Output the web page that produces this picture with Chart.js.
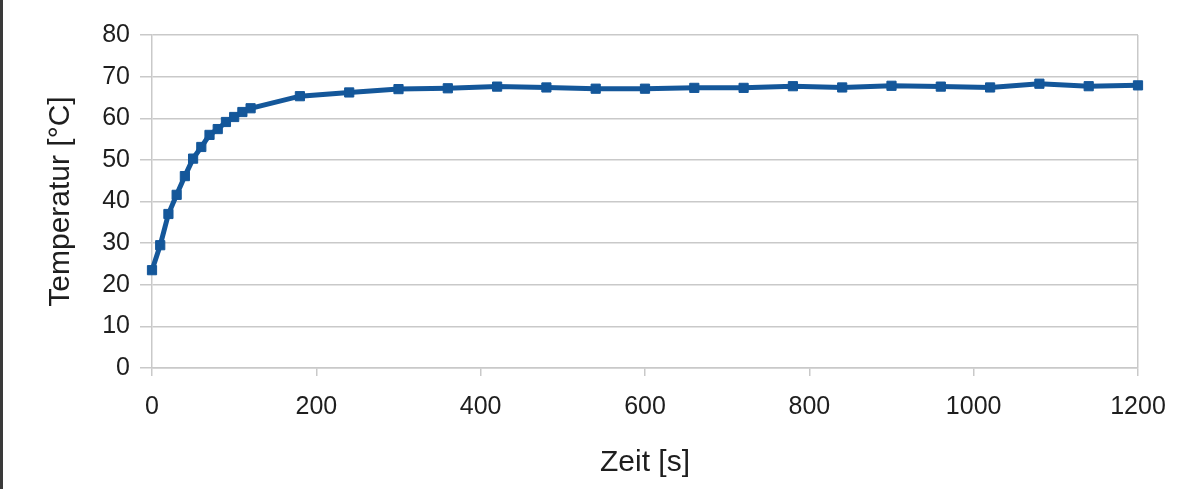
<!DOCTYPE html>
<html>
<head>
<meta charset="utf-8">
<script src="https://cdn.jsdelivr.net/npm/chart.js@4.4.0/dist/chart.umd.min.js"></script>
<style>
  html, body { margin: 0; padding: 0; background: #fff; }
  #wrap { position: relative; width: 1182px; height: 489px; }
  #edge { position: absolute; left: 0; top: 0; width: 3px; height: 489px; background: #3a3a3a; }
  canvas { position: absolute; left: 0; top: 0; }
</style>
</head>
<body>
<div id="wrap">
  <canvas id="chart" width="1182" height="489"></canvas>
  <div id="edge"></div>
</div>
<script>
// Messwerte: Zeit in Sekunden, Temperatur in °C
const zeit = [0, 10, 20, 30, 40, 50, 60, 70, 80, 90, 100, 110, 120,
  180, 240, 300, 360, 420, 480, 540, 600, 660, 720, 780, 840, 900, 960, 1020, 1080, 1140, 1200];
const temperatur = [23.5, 29.5, 37.0, 41.6, 46.1, 50.3, 53.1, 56.0, 57.4, 59.1, 60.3, 61.5, 62.4,
  65.3, 66.2, 67.0, 67.2, 67.6, 67.4, 67.1, 67.1, 67.3, 67.3, 67.7, 67.4, 67.8, 67.6, 67.4, 68.3, 67.7, 67.9];

const xTicks = [0, 200, 400, 600, 800, 1000, 1200];
const yTicks = [0, 10, 20, 30, 40, 50, 60, 70, 80];

const lineColor = '#14579a';
const gridColor = '#c9c9c9';
const textColor = '#1e1e1e';
const fontFamily = '"Liberation Sans", Arial, sans-serif';

const points = zeit.map((t, i) => ({ x: t, y: temperatur[i] }));

const ctx = document.getElementById('chart').getContext('2d');
new Chart(ctx, {
  type: 'line',
  data: {
    datasets: [{
      data: points,
      borderColor: lineColor,
      backgroundColor: lineColor,
      borderWidth: 5,
      pointStyle: 'rect',
      pointRadius: 6.5,
      pointBorderWidth: 1,
      pointBorderColor: lineColor,
      tension: 0,
      clip: false
    }]
  },
  options: {
    responsive: false,
    animation: false,
    layout: { padding: { top: 35, right: 44, bottom: 0, left: 0 } },
    plugins: {
      legend: { display: false },
      tooltip: { enabled: false }
    },
    scales: {
      x: {
        type: 'linear',
        min: xTicks[0],
        max: xTicks[xTicks.length - 1],
        afterBuildTicks: scale => { scale.ticks = xTicks.map(v => ({ value: v })); },
        afterFit: scale => { scale.height = 121; },
        grid: {
          // only the right edge is drawn across the plot, others are just tick marks
          color: c => (c.tick && c.tick.value === xTicks[xTicks.length - 1]) ? gridColor : 'rgba(0,0,0,0)',
          tickColor: gridColor,
          tickLength: 8,
          lineWidth: 1.5
        },
        border: { display: true, color: gridColor, width: 1.5 },
        ticks: {
          padding: 16,
          color: textColor,
          font: { family: fontFamily, size: 25 },
          maxRotation: 0,
          callback: v => String(v)
        },
        title: {
          display: true,
          text: 'Zeit [s]',
          color: textColor,
          font: { family: fontFamily, size: 30 },
          padding: { top: 0, bottom: 8 }
        }
      },
      y: {
        min: yTicks[0],
        max: yTicks[yTicks.length - 1],
        afterBuildTicks: scale => { scale.ticks = yTicks.map(v => ({ value: v })); },
        afterFit: scale => { scale.width = 152; },
        grid: {
          color: gridColor,
          lineWidth: 1.5,
          tickLength: 12
        },
        border: { display: true, color: gridColor, width: 1.5 },
        ticks: {
          padding: 10,
          color: textColor,
          font: { family: fontFamily, size: 25 },
          callback: v => String(v)
        },
        title: {
          display: true,
          text: 'Temperatur [°C]',
          color: textColor,
          font: { family: fontFamily, size: 30 },
          padding: { top: 43, bottom: 0 }
        }
      }
    }
  }
});
</script>
</body>
</html>
